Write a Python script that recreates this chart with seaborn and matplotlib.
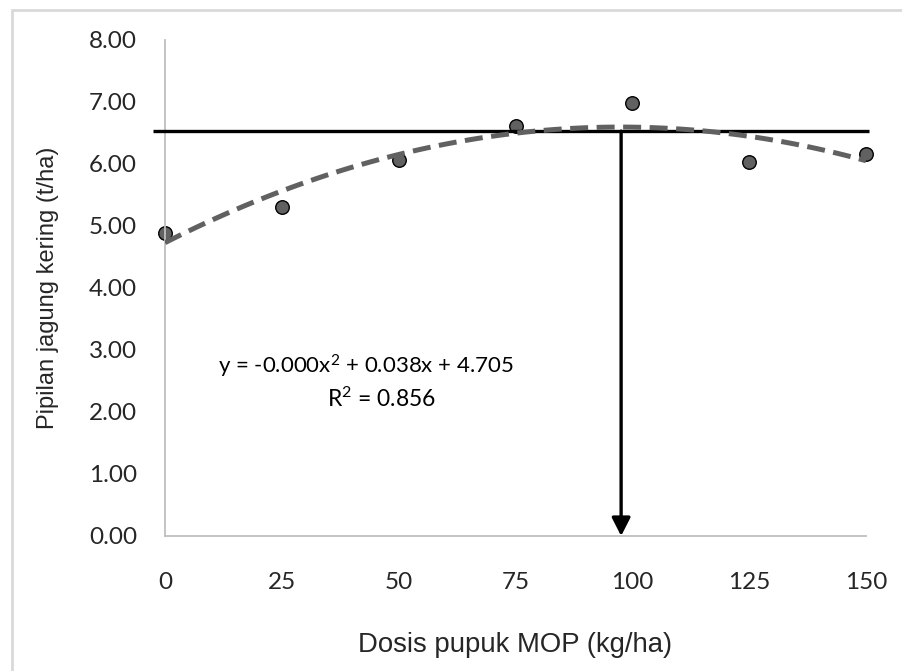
import matplotlib
matplotlib.use("Agg")
import matplotlib.pyplot as plt
import matplotlib.patches as mpatches
import numpy as np
import pandas as pd
import seaborn as sns

# data
dosis = [0, 25, 50, 75, 100, 125, 150]
pipilan = [4.89, 5.31, 6.06, 6.61, 6.98, 6.03, 6.16]
hline_y = 6.53          # horizontal reference yield
hline_x = [-2.6, 150.7]
opt_x = 97.6            # optimum dose (arrow)
x_ticks = [0, 25, 50, 75, 100, 125, 150]
y_ticks = [0, 1, 2, 3, 4, 5, 6, 7, 8]
eq_text = "y = -0.000x$^{2}$ + 0.038x + 4.705"
r2_text = "R$^{2}$ = 0.856"

sns.set_theme(style="white")
plt.rcParams['font.family'] = ['Lato', 'DejaVu Sans']
plt.rcParams['mathtext.fontset'] = 'custom'
plt.rcParams['mathtext.rm'] = 'Lato'
plt.rcParams['mathtext.it'] = 'Lato'
plt.rcParams['mathtext.default'] = 'regular'

df = pd.DataFrame({'Dosis': dosis, 'Pipilan': pipilan})

W, H = 902, 671
fig = plt.figure(figsize=(W / 100, H / 100), dpi=100)
ax = fig.add_axes([165 / W, 1 - 536 / H, (866 - 165) / W, (536 - 40) / H])

# scatter points
sns.scatterplot(data=df, x='Dosis', y='Pipilan', ax=ax, s=95, color='#616161',
                edgecolor='black', linewidth=1.0, zorder=2, clip_on=False)

# horizontal line and arrow
ax.plot(hline_x, [hline_y, hline_y], color='black', lw=2.4, zorder=3,
        solid_capstyle='butt', clip_on=False)
ax.annotate('', xy=(opt_x, 0), xytext=(opt_x, hline_y),
            arrowprops=dict(arrowstyle='-|>,head_width=0.28,head_length=0.55',
                            color='black', lw=2.4,
                            mutation_scale=20, shrinkA=0, shrinkB=0),
            zorder=3, annotation_clip=False)

# polynomial trendline
sns.regplot(data=df, x='Dosis', y='Pipilan', ax=ax, order=2, ci=None,
            scatter=False, truncate=True,
            line_kws=dict(color='#616161', lw=3.6, dashes=(3.6, 1.7),
                          dash_capstyle='butt', zorder=4))

fig.text(366 / W, 1 - 366 / H, eq_text, ha='center', va='center',
         fontsize=16, color='black')
fig.text(381 / W, 1 - 399 / H, r2_text, ha='center', va='center',
         fontsize=16.5, color='black')

ax.set_xlim(0, 150)
ax.set_ylim(0, 8)
ax.set_xticks(x_ticks)
ax.set_yticks(y_ticks)
ax.set_yticklabels([f"{v:.2f}" for v in y_ticks])
ax.tick_params(axis='x', length=0, pad=26, labelsize=17.5)
ax.tick_params(axis='y', length=0, pad=20, labelsize=17.5)

ax.set_xlabel('Dosis pupuk MOP (kg/ha)', family=['Liberation Sans'], fontsize=19.8,
              labelpad=28)
ax.set_ylabel('Pipilan jagung kering (t/ha)', family=['Liberation Sans'], fontsize=17,
              labelpad=22)

sns.despine(ax=ax)
for side in ['left', 'bottom']:
    ax.spines[side].set_color('#BFBFBF')
    ax.spines[side].set_linewidth(1.3)

# light outer border of the chart area
border = mpatches.Rectangle((12 / W, -0.5), 1.0, 0.5 + 1 - 10 / H,
                            transform=fig.transFigure, fill=False,
                            edgecolor='#D9D9D9', lw=2)
fig.patches.append(border)

fig.savefig('out.png', dpi=100)
